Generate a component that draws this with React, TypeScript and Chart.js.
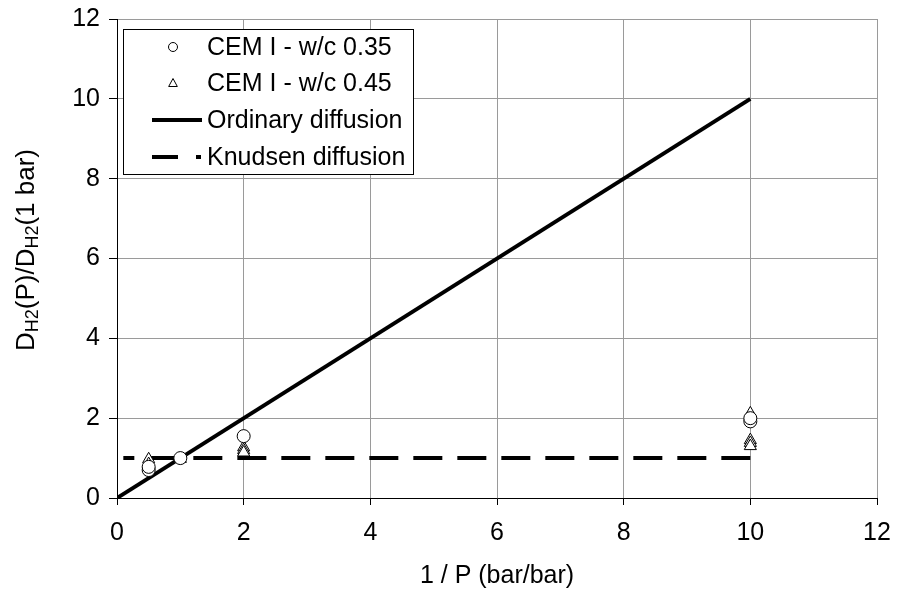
import { useEffect, useRef } from "react";
import { Chart, registerables } from "chart.js";

Chart.register(...registerables);

// ---- data ----
const cem035X = [0.5, 0.5, 1, 2, 10, 10];
const cem035Y = [0.7, 0.78, 1.0, 1.55, 1.92, 2.0];

const cem045X = [0.5, 0.5, 1, 2, 2, 2, 10, 10, 10, 10];
const cem045Y = [0.97, 0.85, 0.98, 1.27, 1.2, 1.14, 2.12, 1.45, 1.38, 1.3];

const ordinaryX = [0, 10];
const ordinaryY = [0, 10];

const knudsenX = [0.1, 10];
const knudsenY = [1, 1];

const seriesNames = ["CEM I - w/c 0.35", "CEM I - w/c 0.45", "Ordinary diffusion", "Knudsen diffusion"];
const xAxisTitle = "1 / P (bar/bar)";
const yTitleParts: { t: string; sub: boolean }[] = [
  { t: "D", sub: false },
  { t: "H2", sub: true },
  { t: "(P)/D", sub: false },
  { t: "H2", sub: true },
  { t: "(1 bar)", sub: false },
];

const FONT = "'Liberation Sans', Arial, sans-serif";
const FS = 25;

const toPts = (xs: number[], ys: number[]) => xs.map((x, i) => ({ x, y: ys[i] }));

const overlayPlugin = {
  id: "overlay",
  afterDraw(chart: any) {
    const ctx: CanvasRenderingContext2D = chart.ctx;
    const area = chart.chartArea;
    ctx.save();
    // legend box
    const bx = 123.5, by = 29.5, bw = 290, bh = 145;
    ctx.fillStyle = "#fff";
    ctx.fillRect(bx, by, bw, bh);
    ctx.strokeStyle = "#000";
    ctx.lineWidth = 1;
    ctx.strokeRect(bx, by, bw, bh);
    const rows = [47, 83.5, 120, 157];
    ctx.font = `${FS}px ${FONT}`;
    ctx.fillStyle = "#000";
    ctx.textBaseline = "middle";
    ctx.textAlign = "left";
    seriesNames.forEach((n, i) => ctx.fillText(n, 207, rows[i] + 1));
    // circle marker
    ctx.beginPath();
    ctx.arc(173, rows[0], 4.5, 0, Math.PI * 2);
    ctx.fillStyle = "#fff";
    ctx.fill();
    ctx.stroke();
    // triangle marker
    ctx.beginPath();
    const r = 5;
    ctx.moveTo(173, rows[1] - r);
    ctx.lineTo(173 + r * 0.866, rows[1] + r * 0.5 + 0.5);
    ctx.lineTo(173 - r * 0.866, rows[1] + r * 0.5 + 0.5);
    ctx.closePath();
    ctx.fill();
    ctx.stroke();
    // solid line
    ctx.lineWidth = 4;
    ctx.beginPath();
    ctx.moveTo(152, rows[2]);
    ctx.lineTo(202, rows[2]);
    ctx.stroke();
    // dashed
    ctx.beginPath();
    ctx.moveTo(152, rows[3]);
    ctx.lineTo(178, rows[3]);
    ctx.moveTo(196, rows[3]);
    ctx.lineTo(201, rows[3]);
    ctx.stroke();

    // x title
    ctx.fillStyle = "#000";
    ctx.font = `${FS}px ${FONT}`;
    ctx.textAlign = "center";
    ctx.textBaseline = "alphabetic";
    ctx.fillText(xAxisTitle, (area.left + area.right) / 2, 583);

    // y title with subscripts
    const mainFS = 26;
    const subFS = 18;
    const widths = yTitleParts.map((p) => {
      ctx.font = `${p.sub ? subFS : mainFS}px ${FONT}`;
      return ctx.measureText(p.t).width;
    });
    const total = widths.reduce((a, b) => a + b, 0);
    ctx.translate(34, 250);
    ctx.rotate(-Math.PI / 2);
    ctx.textAlign = "left";
    let cx = -total / 2;
    yTitleParts.forEach((p, i) => {
      ctx.font = `${p.sub ? subFS : mainFS}px ${FONT}`;
      ctx.fillText(p.t, cx, p.sub ? 4 : 0);
      cx += widths[i];
    });
    ctx.restore();
  },
};

export default function App() {
  const ref = useRef<HTMLCanvasElement>(null);
  useEffect(() => {
    if (!ref.current) return;
    const tickFont = { family: FONT, size: FS };
    const chart = new Chart(ref.current, {
      type: "scatter",
      data: {
        datasets: [
          {
            label: seriesNames[0],
            data: toPts(cem035X, cem035Y),
            pointStyle: "circle",
            pointRadius: 6.5,
            pointBackgroundColor: "#fff",
            pointBorderColor: "#000",
            pointBorderWidth: 1,
            showLine: false,
          },
          {
            label: seriesNames[1],
            data: toPts(cem045X, cem045Y),
            pointStyle: "triangle",
            pointRadius: 7,
            pointBackgroundColor: "#fff",
            pointBorderColor: "#000",
            pointBorderWidth: 1,
            showLine: false,
          },
          {
            label: seriesNames[2],
            data: toPts(ordinaryX, ordinaryY),
            showLine: true,
            borderColor: "#000",
            borderWidth: 4,
            pointRadius: 0,
          },
          {
            label: seriesNames[3],
            data: toPts(knudsenX, knudsenY),
            showLine: true,
            borderColor: "#000",
            borderWidth: 4,
            borderDash: [29, 15],
            borderDashOffset: 18,
            pointRadius: 0,
          },
        ],
      },
      options: {
        animation: false,
        responsive: false,
        layout: { padding: { left: 0, top: 19, right: 21, bottom: 0 } },
        plugins: { legend: { display: false }, tooltip: { enabled: false } },
        scales: {
          x: {
            type: "linear",
            min: 0,
            max: 12,
            ticks: { stepSize: 2, font: tickFont, color: "#000", padding: 13 },
            grid: { color: "#9a9a9a", tickColor: "#000", tickLength: 7 },
            border: { color: "#000", width: 1 },
            afterFit: (s: any) => {
              s.height = 94;
              s.paddingLeft = 0;
              s.paddingRight = 0;
            },
          },
          y: {
            type: "linear",
            min: 0,
            max: 12,
            ticks: { stepSize: 2, font: tickFont, color: "#000", padding: 9 },
            grid: { color: "#9a9a9a", tickColor: "#000", tickLength: 8 },
            border: { color: "#000", width: 1 },
            afterFit: (s: any) => {
              s.width = 117;
              s.paddingTop = 0;
              s.paddingBottom = 0;
            },
          },
        },
      },
      plugins: [overlayPlugin],
    } as any);
    return () => chart.destroy();
  }, []);
  return (
    <div style={{ position: "absolute", left: 0, top: 0, width: 898, height: 592, background: "#fff" }}>
      <canvas ref={ref} width={898} height={592} style={{ display: "block" }} />
    </div>
  );
}
